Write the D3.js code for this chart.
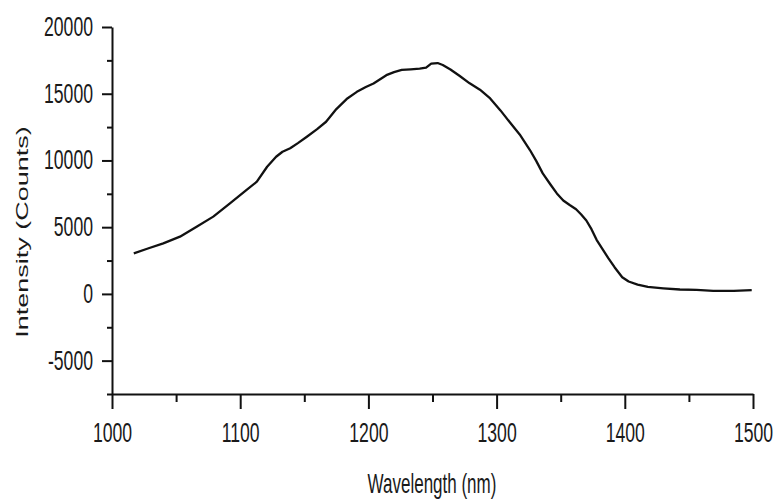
<!DOCTYPE html>
<html>
<head>
<meta charset="utf-8">
<script src="https://cdn.jsdelivr.net/npm/d3@7"></script>
<style>
  body { margin: 0; background: #fff; }
  svg { display: block; }
  text { font-family: "Liberation Sans", Arial, sans-serif; fill: #1a1a1a; }
</style>
</head>
<body>
<svg id="container" width="777" height="503"></svg>
<script>
// spectrum
const wavelength = [1017, 1028, 1040, 1053, 1066, 1079, 1092, 1105, 1113, 1121,
  1128, 1133, 1139, 1145, 1152, 1160, 1167, 1175,
  1183, 1191, 1198, 1204, 1214, 1220, 1226, 1233, 1240, 1245,
  1249, 1254, 1258, 1264, 1271, 1279, 1287, 1295, 1303, 1310,
  1318, 1326, 1331, 1336, 1342, 1347, 1352, 1357, 1362, 1366,
  1370, 1374, 1378, 1382, 1387, 1392, 1398, 1403, 1410, 1418,
  1430, 1443, 1456, 1469, 1485, 1499];
const intensity = [3040, 3400, 3790, 4290, 5040, 5790, 6790, 7790, 8410, 9530,
  10280, 10650, 10910, 11300, 11780, 12350, 12900, 13850,
  14600, 15140, 15500, 15770, 16390, 16620, 16780, 16830, 16880, 16950,
  17250, 17300, 17150, 16820, 16350, 15780, 15300, 14650, 13750, 12900,
  11950, 10780, 9950, 9030, 8200, 7530, 7000, 6660, 6340, 5950,
  5500, 4850, 4050, 3450, 2700, 2000, 1250, 930, 700, 520,
  420, 330, 300, 230, 220, 290];

const xTicks = [1000, 1100, 1200, 1300, 1400, 1500];
const xMinor = [1050, 1150, 1250, 1350, 1450];
const yTicks = [-5000, 0, 5000, 10000, 15000, 20000];
const yMinor = [-7500, -2500, 2500, 7500, 12500, 17500];

const svg = d3.select('#container');
const sx = 0.63; // text looks squeezed sideways

const x = d3.scaleLinear().domain([1000, 1500]).range([112, 753]);
const y = d3.scaleLinear().domain([-7500, 20000]).range([394, 27]);

const points = wavelength.map((w, i) => [w, intensity[i]]);

// x axis
const gx = svg.append('g').attr('transform', `translate(0,${y(-7500)})`);
gx.call(d3.axisBottom(x).tickValues(xTicks).tickSize(15).tickSizeOuter(0).tickFormat(d => String(d)));
gx.append('g').call(d3.axisBottom(x).tickValues(xMinor).tickSize(8).tickSizeOuter(0).tickFormat(''))
  .select('.domain').remove();

// y axis
const gy = svg.append('g').attr('transform', `translate(${x(1000)},0)`);
gy.call(d3.axisLeft(y).tickValues(yTicks).tickSize(10).tickSizeOuter(0).tickFormat(d => String(d)));
gy.append('g').call(d3.axisLeft(y).tickValues(yMinor).tickSize(5).tickSizeOuter(0).tickFormat(''))
  .select('.domain').remove();

svg.selectAll('.domain, .tick line')
  .attr('stroke', '#111')
  .attr('stroke-width', 2);

gx.selectAll('.tick text')
  .attr('font-size', 28)
  .attr('y', 28)
  .attr('dy', '0.71em')
  .attr('transform', `scale(${sx},1)`)
  .style('font-family', '"Liberation Sans", Arial, sans-serif')
  .attr('fill', '#1a1a1a');

gy.selectAll('.tick text')
  .attr('font-size', 28)
  .attr('x', -19 / sx)
  .attr('dy', '0.3em')
  .attr('transform', `scale(${sx},1)`)
  .style('font-family', '"Liberation Sans", Arial, sans-serif')
  .attr('fill', '#1a1a1a');

// the curve
const line = d3.line()
  .x(d => x(d[0]))
  .y(d => y(d[1]));

svg.append('path')
  .datum(points)
  .attr('fill', 'none')
  .attr('stroke', '#111')
  .attr('stroke-width', 2.3)
  .attr('stroke-linejoin', 'round')
  .attr('d', line);

// titles
svg.append('text')
  .attr('transform', `translate(432,493) scale(${sx},1)`)
  .attr('text-anchor', 'middle')
  .attr('font-size', 27)
  .text('Wavelength (nm)');

svg.append('text')
  .attr('transform', `translate(28,232) scale(${sx},1) rotate(-90)`)
  .attr('text-anchor', 'middle')
  .attr('font-size', 27)
  .text('Intensity (Counts)');
</script>
</body>
</html>
